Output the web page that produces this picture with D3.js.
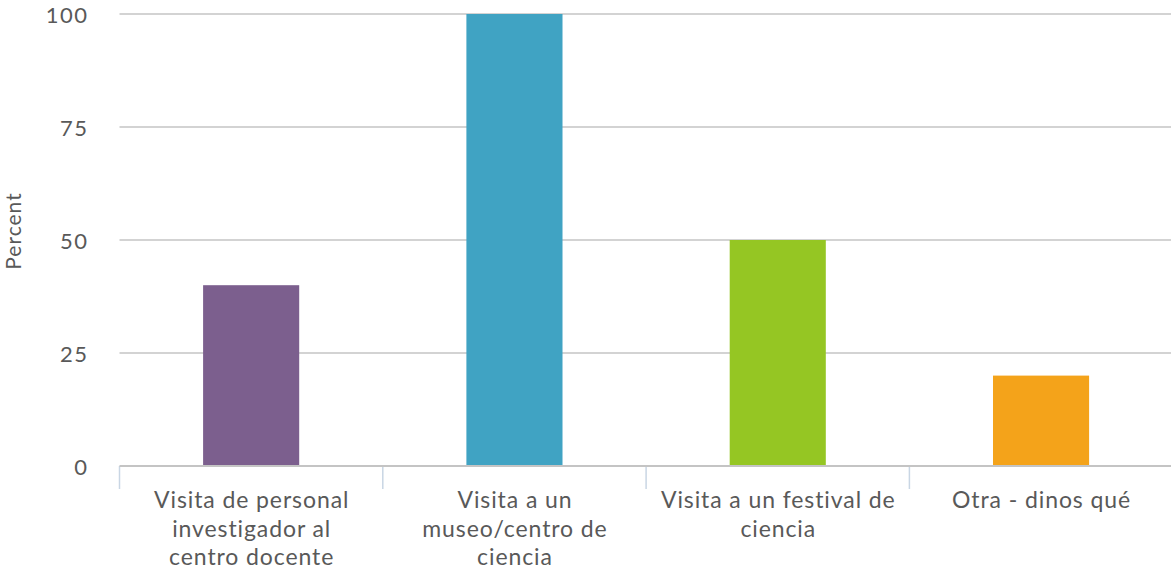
<!DOCTYPE html>
<html>
<head>
<meta charset="utf-8">
<script src="https://cdn.jsdelivr.net/npm/d3@7"></script>
<style>
  body { margin: 0; background: #fff; }
  text { font-family: Lato, "Open Sans", sans-serif; fill: #595959; }
</style>
</head>
<body>
<svg id="chart" width="1171" height="571"></svg>
<script>
// data
const categories = ['personal', 'museo', 'festival', 'otra'];
const categoryLabels = [
  ['Visita de personal', 'investigador al', 'centro docente'],
  ['Visita a un', 'museo/centro de', 'ciencia'],
  ['Visita a un festival de', 'ciencia'],
  ['Otra - dinos qué']
];
const percentValues = [40, 100, 50, 20];
const barColors = ['#7c5f8e', '#40a3c3', '#95c623', '#f4a31a'];
const yTicks = [0, 25, 50, 75, 100];

const svg = d3.select('#chart');
const plotLeft = 119.5, plotRight = 1172.7, plotTop = 14, plotBottom = 466;

const x = d3.scaleBand()
  .domain(categories)
  .range([plotLeft, plotRight])
  .paddingInner(0.635)
  .paddingOuter(0.3175);

const y = d3.scaleLinear().domain([0, 100]).range([plotBottom, plotTop]);

// gridlines
svg.append('g')
  .selectAll('line')
  .data(yTicks.filter(d => d > 0))
  .join('line')
  .attr('x1', plotLeft)
  .attr('x2', plotRight)
  .attr('y1', d => y(d))
  .attr('y2', d => y(d))
  .attr('stroke', '#c4c4c4')
  .attr('stroke-width', 1.5);

// y tick labels
svg.append('g')
  .selectAll('text')
  .data(yTicks)
  .join('text')
  .attr('x', 88.5)
  .attr('y', d => y(d) + 1)
  .attr('dy', '0.35em')
  .attr('text-anchor', 'end')
  .style('font-size', '22px')
  .style('letter-spacing', '1.5px')
  .text(d => d);

// bars
svg.append('g')
  .selectAll('rect')
  .data(percentValues)
  .join('rect')
  .attr('x', (d, i) => x(categories[i]))
  .attr('width', x.bandwidth())
  .attr('y', d => y(d))
  .attr('height', d => y(0) - y(d))
  .attr('fill', (d, i) => barColors[i]);

// category ticks at band boundaries
const step = x.step();
svg.append('g')
  .selectAll('line')
  .data(d3.range(categories.length + 1))
  .join('line')
  .attr('x1', i => plotLeft + i * step)
  .attr('x2', i => plotLeft + i * step)
  .attr('y1', plotBottom)
  .attr('y2', plotBottom + 23)
  .attr('stroke', '#c9d6e4')
  .attr('stroke-width', 1.5);

// x axis line
svg.append('line')
  .attr('x1', plotLeft)
  .attr('x2', plotRight)
  .attr('y1', plotBottom)
  .attr('y2', plotBottom)
  .attr('stroke', '#c4c4c4')
  .attr('stroke-width', 2);

// category labels
const labels = svg.append('g')
  .selectAll('text')
  .data(categories)
  .join('text')
  .attr('text-anchor', 'middle')
  .style('font-size', '23px')
  .style('letter-spacing', '0.9px')
  .attr('transform', d => `translate(${x(d) + x.bandwidth() / 2 + 0.5},508)`);

labels.selectAll('tspan')
  .data((d, i) => categoryLabels[i])
  .join('tspan')
  .attr('x', 0)
  .attr('y', (d, i) => i * 28.5)
  .text(d => d);

// y axis title
svg.append('text')
  .attr('transform', `translate(21,231) rotate(-90)`)
  .attr('text-anchor', 'middle')
  .style('font-size', '21px')
  .style('letter-spacing', '1px')
  .text('Percent');
</script>
</body>
</html>
